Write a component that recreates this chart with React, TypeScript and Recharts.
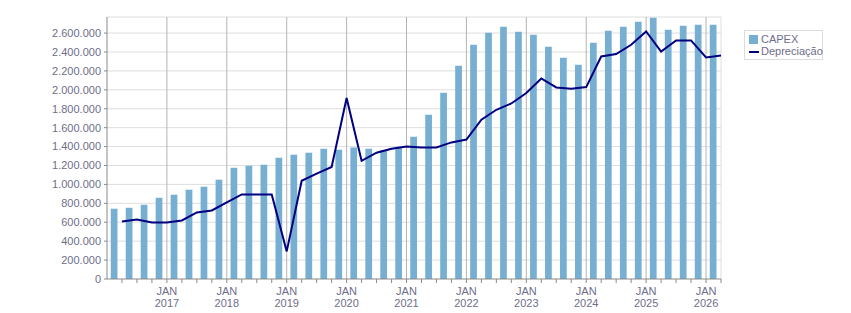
import React from 'react';
import { ComposedChart, Bar, Line, XAxis, YAxis, CartesianGrid } from 'recharts';

const capex = [
  743000, 753000, 785000, 859000, 891000, 944000, 976000, 1050000,
  1176000, 1197000, 1208000, 1282000, 1314000, 1335000, 1377000, 1366000,
  1391000, 1377000, 1363000, 1398000, 1504000, 1736000, 1969000, 2254000,
  2476000, 2603000, 2666000, 2614000, 2582000, 2455000, 2339000, 2265000,
  2497000, 2624000, 2666000, 2719000, 2761000, 2635000, 2677000, 2688000,
  2688000,
];

const depreciacao = [
  609000, 630000, 598000, 598000, 619000, 704000, 725000, 810000,
  894000, 894000, 894000, 292000, 1039000, 1115000, 1184000, 1913000,
  1250000, 1335000, 1377000, 1401000, 1391000, 1391000, 1444000, 1475000,
  1684000, 1789000, 1856000, 1966000, 2120000, 2025000, 2011000, 2029000,
  2353000, 2378000, 2476000, 2617000, 2405000, 2522000, 2522000, 2342000,
  2363000,
];

const yearLabels = ['2017', '2018', '2019', '2020', '2021', '2022', '2023', '2024', '2025', '2026'];
const monthLabel = 'JAN';
const yTicks = [0, 200000, 400000, 600000, 800000, 1000000, 1200000, 1400000, 1600000, 1800000, 2000000, 2200000, 2400000, 2600000];
const yMax = 2770000;

const BAR_COLOR = '#76afd2';
const LINE_COLOR = '#000080';
const TEXT_COLOR = '#6e6e8a';
const FONT = "'Liberation Sans', Arial, sans-serif";

// quarter index axis: 0 = start of first quarter
const rows: any[] = [];
capex.forEach((v, i) => rows.push({ t: i + 0.5, capex: v }));
depreciacao.forEach((v, i) => rows.push({ t: i + 1, dep: v }));
rows.sort((a, b) => a.t - b.t);

const quarterTicks = capex.map((_, i) => i + 1);
const janTicks = yearLabels.map((_, i) => (i + 1) * 4);

const fmt = (v: number) => String(v).replace(/\B(?=(\d{3})+(?!\d))/g, '.');

const XTick = (props: any) => {
  const { x, y, payload } = props;
  const v = payload.value;
  if (v % 4 !== 0) return null;
  const year = yearLabels[v / 4 - 1];
  if (!year) return null;
  return (
    <text x={x} y={y} textAnchor="middle" fill={TEXT_COLOR} fontSize={11} fontFamily={FONT}>
      <tspan x={x} dy={10}>{monthLabel}</tspan>
      <tspan x={x} dy={12}>{year}</tspan>
    </text>
  );
};

export default function App() {
  return (
    <div style={{ position: 'absolute', left: 0, top: 0, width: 851, height: 313, background: '#fff', fontFamily: FONT }}>
      <ComposedChart
        width={851}
        height={313}
        data={rows}
        margin={{ top: 17, right: 130, left: 0, bottom: 0 }}
      >
        <CartesianGrid
          stroke="#dedede"
          strokeWidth={1}
          horizontalValues={[...yTicks.slice(1), yMax]}
          verticalValues={[capex.length]}
        />
        <CartesianGrid
          stroke="#b4b4b4"
          strokeWidth={1}
          horizontal={false}
          verticalValues={janTicks}
        />
        <XAxis
          dataKey="t"
          type="number"
          domain={[0, capex.length]}
          ticks={quarterTicks}
          interval={0}
          height={34}
          tickSize={4}
          tickMargin={2}
          stroke="#8a8a8a"
          tick={<XTick />}
          allowDataOverflow
        />
        <YAxis
          type="number"
          domain={[0, yMax]}
          ticks={yTicks}
          interval={0}
          width={107}
          tickSize={3}
          tickMargin={3}
          stroke="#8a8a8a"
          tickFormatter={fmt}
          tick={{ fill: TEXT_COLOR, fontSize: 11, fontFamily: FONT }}
          allowDataOverflow
        />
        <Bar dataKey="capex" fill={BAR_COLOR} barSize={10} isAnimationActive={false} />
        <Line
          dataKey="dep"
          stroke={LINE_COLOR}
          strokeWidth={2}
          dot={false}
          connectNulls
          type="linear"
          isAnimationActive={false}
        />
      </ComposedChart>
      <div
        style={{
          position: 'absolute',
          left: 744,
          top: 30,
          width: 77,
          height: 28,
          border: '1px solid #dcdcdc',
          fontSize: 11,
          color: TEXT_COLOR,
          fontFamily: FONT,
          lineHeight: '13px',
          boxSizing: 'content-box',
        }}
      >
        <div style={{ position: 'absolute', left: 4, top: 2, display: 'flex', alignItems: 'center' }}>
          <span style={{ display: 'inline-block', width: 9, height: 9, background: BAR_COLOR, marginRight: 3 }} />
          <span>CAPEX</span>
        </div>
        <div style={{ position: 'absolute', left: 4, top: 14, display: 'flex', alignItems: 'center' }}>
          <span style={{ display: 'inline-block', width: 10, height: 2, background: LINE_COLOR, marginRight: 2 }} />
          <span>Depreciação</span>
        </div>
      </div>
    </div>
  );
}
